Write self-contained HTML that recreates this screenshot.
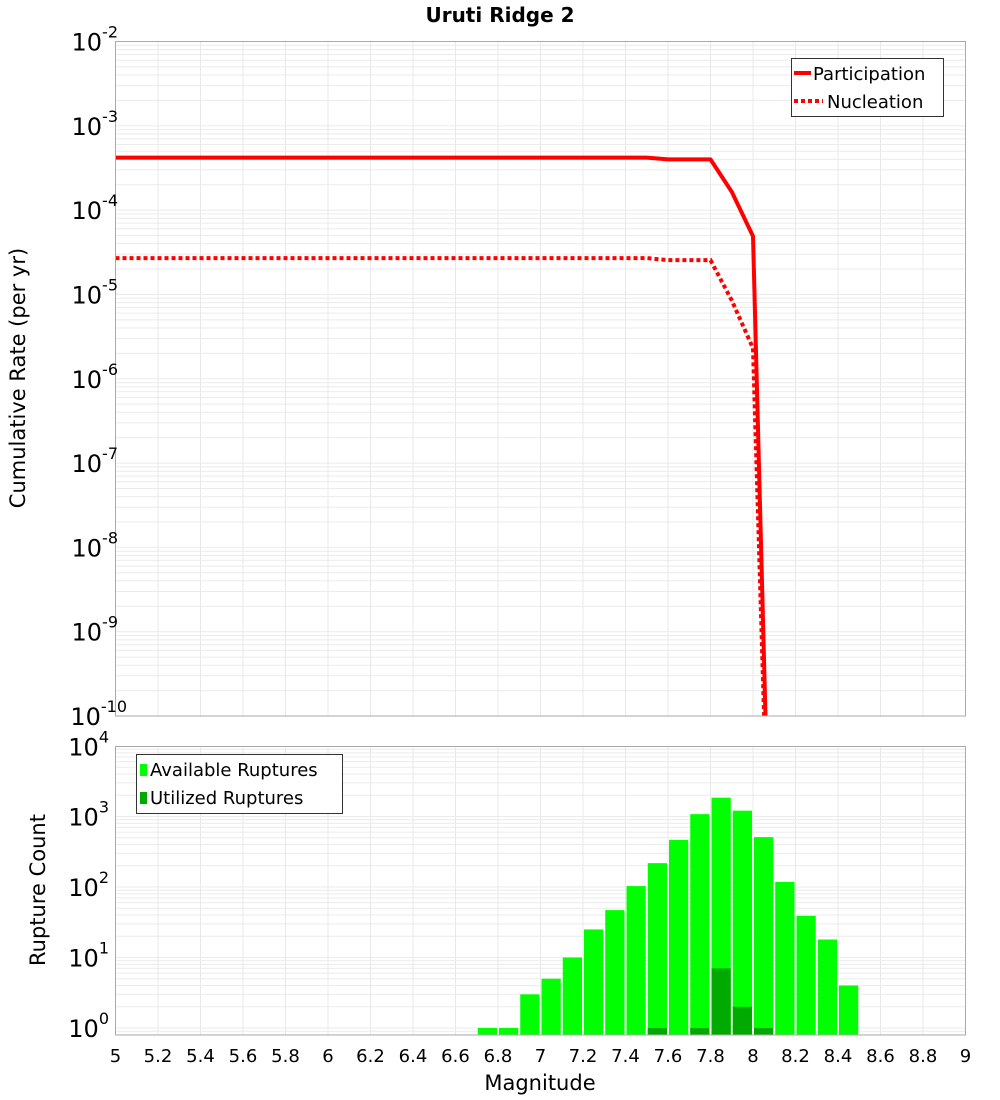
<!DOCTYPE html>
<html><head><meta charset="utf-8">
<style>
html,body{margin:0;padding:0;background:#fff;}
svg{display:block;font-family:"DejaVu Sans","Liberation Sans",sans-serif;}
</style></head>
<body>
<svg id="chart" width="1000" height="1100" xmlns="http://www.w3.org/2000/svg">
<text x="500" y="22" text-anchor="middle" font-size="20" font-weight="bold">Uruti Ridge 2</text>
<text transform="translate(25,378) rotate(-90)" text-anchor="middle" font-size="21">Cumulative Rate (per yr)</text>
<text transform="translate(45,890) rotate(-90)" text-anchor="middle" font-size="21">Rupture Count</text>
<text x="540" y="1090" text-anchor="middle" font-size="21">Magnitude</text>
<g id="grid"></g>
<g id="marks"></g>
<g id="axes"></g>
<g id="legends"></g>
</svg>
<script>
const rateMags = [5, 7.5, 7.6, 7.7, 7.8, 7.9, 8.0, 8.1];
const participation = [4.2e-4, 4.2e-4, 4.0e-4, 4.0e-4, 4.0e-4, 1.65e-4, 4.9e-5, 1e-14];
const nucleation = [2.7e-5, 2.7e-5, 2.55e-5, 2.55e-5, 2.55e-5, 8.5e-6, 2.3e-6, 1e-14];
const binMags = [6.7,6.8,6.9,7.0,7.1,7.2,7.3,7.4,7.5,7.6,7.7,7.8,7.9,8.0,8.1,8.2,8.3,8.4];
const available = [1,1,3,5,10,25,47,103,218,466,1080,1850,1210,510,118,39,18,4];
const utilized = [0,0,0,0,0,0,0,0,1,0,1,7,2,1,0,0,0,0];
const xTicks = [5,5.2,5.4,5.6,5.8,6,6.2,6.4,6.6,6.8,7,7.2,7.4,7.6,7.8,8,8.2,8.4,8.6,8.8,9];
const xTickLabels = ["5","5.2","5.4","5.6","5.8","6","6.2","6.4","6.6","6.8","7","7.2","7.4","7.6","7.8","8","8.2","8.4","8.6","8.8","9"];
const topDecades = [-2,-3,-4,-5,-6,-7,-8,-9,-10];
const botDecades = [4,3,2,1,0];

const NS="http://www.w3.org/2000/svg";
const L=115.5,R=965.5,T1=41.5,B1=716,T2=746.5,B2=1035;
const X=m=>L+(m-5)/4*(R-L);
const Y1=v=>T1+(-2-Math.log10(v))/8*(B1-T1);
const Y2=v=>1028-Math.log10(v)*70.5;
function mk(tag,attrs,parent){const e=document.createElementNS(NS,tag);for(const k in attrs)e.setAttribute(k,attrs[k]);parent.appendChild(e);return e;}
const grid=document.getElementById('grid'),marks=document.getElementById('marks'),axes=document.getElementById('axes'),leg=document.getElementById('legends');

// clip paths
const defs=mk('defs',{},document.getElementById('chart'));
const cp=mk('clipPath',{id:'c1'},defs);mk('rect',{x:L,y:T1,width:R-L,height:B1-T1},cp);
const cp2=mk('clipPath',{id:'c2'},defs);mk('rect',{x:L,y:T2,width:R-L,height:B2-T2},cp2);

// grids
for(const t of xTicks){
  let g=mk('line',{x1:X(t),x2:X(t),y1:T1,y2:B1,stroke:'#e8e8e8','stroke-width':1},grid);
  
  g=mk('line',{x1:X(t),x2:X(t),y1:T2,y2:B2,stroke:'#e8e8e8','stroke-width':1},grid);
  
}
for(let d=-10;d<-2;d++){for(let k=1;k<10;k++){const y=Y1(k*Math.pow(10,d));
  const g=mk('line',{x1:L,x2:R,y1:y,y2:y,stroke:'#ebebeb','stroke-width':1},grid);
  }}
for(let d=-1;d<4;d++){for(let k=1;k<10;k++){const y=Y2(k*Math.pow(10,d));if(y>B2||y<T2)continue;
  const g=mk('line',{x1:L,x2:R,y1:y,y2:y,stroke:'#ebebeb','stroke-width':1},grid);
  }}

// lines
function pts(arr){return rateMags.map((m,i)=>X(m)+','+Y1(arr[i])).join(' ');}
let p=mk('polyline',{points:pts(participation),fill:'none',stroke:'#ff0000','stroke-width':4,'clip-path':'url(#c1)','stroke-linejoin':'round'},marks);

p=mk('polyline',{points:pts(nucleation),fill:'none',stroke:'#ff0000','stroke-width':4,'stroke-dasharray':'4,3','clip-path':'url(#c1)'},marks);


// bars
binMags.forEach((m,i)=>{
  const x0=X(m)+1,w=X(m+0.1)-X(m)-2;
  if(available[i]>0){const y=Y2(available[i]);
    const b=mk('rect',{x:x0,y:y,width:w,height:B2-y,fill:'#00ff00','clip-path':'url(#c2)'},marks);
    }
  if(utilized[i]>0){const y=Y2(utilized[i]);
    const b=mk('rect',{x:x0,y:y,width:w,height:B2-y,fill:'#00aa00','clip-path':'url(#c2)'},marks);
    }
});

// frames
let f=mk('rect',{x:L,y:T1,width:R-L,height:B1-T1,fill:'none',stroke:'#aaaaaa','stroke-width':1},axes);

f=mk('rect',{x:L,y:T2,width:R-L,height:B2-T2,fill:'none',stroke:'#aaaaaa','stroke-width':1},axes);


// tick labels
xTicks.forEach((t,i)=>{const tx=mk('text',{x:X(t),y:1062,'text-anchor':'middle','font-size':18},axes);tx.textContent=xTickLabels[i];
  });
function decLabel(y,d,name){const tx=mk('text',{x:100,y:y+9,'text-anchor':'end','font-size':24},axes);
  tx.textContent='10';const s=mk('tspan',{dy:-13,'font-size':16},tx);s.textContent=String(d);
  tx.setAttribute('transform','translate('+(String(d).length*9)+',0)');
  }
topDecades.forEach(d=>decLabel(Y1(Math.pow(10,d)),d,'top-y-tick-label'));
botDecades.forEach(d=>decLabel(d===4?T2:Y2(Math.pow(10,d)),d,'bottom-y-tick-label'));

// legends
let g=mk('g',{},leg);
mk('rect',{x:791.5,y:58.5,width:152,height:58,fill:'#fff',stroke:'#333'},g);
mk('line',{x1:794,x2:811,y1:73,y2:73,stroke:'#f00','stroke-width':4},g);
let t=mk('text',{x:813,y:80,'font-size':18},g);t.textContent='Participation';
mk('line',{x1:794,x2:823,y1:101,y2:101,stroke:'#f00','stroke-width':4,'stroke-dasharray':'4,3'},g);
t=mk('text',{x:827,y:108,'font-size':18},g);t.textContent='Nucleation';
g=mk('g',{},leg);
mk('rect',{x:136.5,y:754.5,width:206,height:59,fill:'#fff',stroke:'#333'},g);
mk('rect',{x:140,y:764,width:7,height:12,fill:'#00ff00'},g);
t=mk('text',{x:150,y:776,'font-size':18},g);t.textContent='Available Ruptures';
mk('rect',{x:140,y:792,width:7,height:12,fill:'#00aa00'},g);
t=mk('text',{x:150,y:804,'font-size':18},g);t.textContent='Utilized Ruptures';
</script>
</body></html>
